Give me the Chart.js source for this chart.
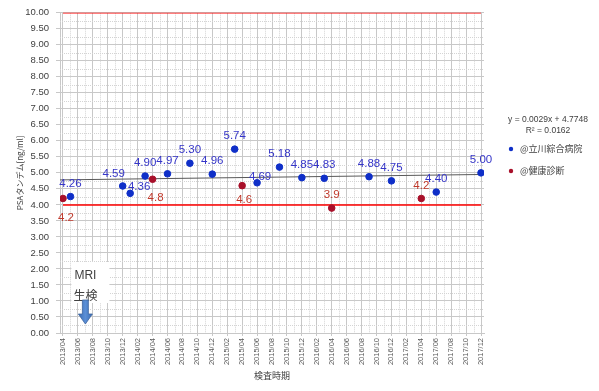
<!DOCTYPE html>
<html>
<head>
<meta charset="utf-8">
<script src="https://cdn.jsdelivr.net/npm/chart.js@4.4.1/dist/chart.umd.min.js"></script>
<style>
  html, body { margin: 0; padding: 0; background: #fff; }
  #wrap { width: 599px; height: 391px; position: relative; }
</style>
</head>
<body>
<div id="wrap"><canvas id="psaChart"></canvas></div>
<script>
// 目盛りラベル (2か月ごと)
const tickLabels = ['2013/04','2013/06','2013/08','2013/10','2013/12',
  '2014/02','2014/04','2014/06','2014/08','2014/10','2014/12',
  '2015/02','2015/04','2015/06','2015/08','2015/10','2015/12',
  '2016/02','2016/04','2016/06','2016/08','2016/10','2016/12',
  '2017/02','2017/04','2017/06','2017/08','2017/10','2017/12'];

// @立川綜合病院
const hospitalMonths = ['2013/05','2013/12','2014/01','2014/03','2014/06','2014/09','2014/12','2015/03',
  '2015/06','2015/09','2015/12','2016/03','2016/09','2016/12','2017/06','2017/12'];
const hospitalPsa = [4.26, 4.59, 4.36, 4.90, 4.97, 5.30, 4.96, 5.74, 4.69, 5.18, 4.85, 4.83, 4.88, 4.75, 4.40, 5.00];
const hospitalLabelPos = ['t','tl','tr','t','t','t','t','t','tc','t','t','t','t','t','t','t'];

// @健康診断
const checkupMonths = ['2013/04','2014/04','2015/04','2016/04','2017/04'];
const checkupPsa = [4.2, 4.8, 4.6, 3.9, 4.2];
const checkupLabelPos = ['b','b','b2','t','t'];

// 近似直線 (左端, 右端)
const trendValues = [4.78, 4.95];
const trendText = ['y = 0.0029x + 4.7748', 'R² = 0.0162'];

// 基準線
const limitValues = [4.0, 10.0];
const limitMonths = ['2013/04', '2017/12'];

const X_MIN = -0.4, X_MAX = 56.4;

function monthIndex(s) {
  const [y, m] = s.split('/').map(Number);
  return (y - 2013) * 12 + m - 4;
}

const blue = '#0f2fc8';
const blueText = '#3535c8';
const red = '#a8102a';
const redText = '#c0392b';
const gridColor = '#c8c8c8';
const latin = "'Liberation Sans', 'Noto Sans CJK JP', sans-serif";
const cjk = "'Noto Sans CJK JP', 'Liberation Sans', sans-serif";

const labelOffsets = {
  t: [0, -13], tl: [-9, -12], tr: [9, -7], tc: [3, -6], b: [3, 19], b2: [2, 14]
};

// 副目盛りの点線
const minorGrid = {
  id: 'minorGrid',
  beforeDatasetsDraw(chart) {
    const { ctx, chartArea: a, scales: { x, y } } = chart;
    ctx.save();
    ctx.strokeStyle = '#d4d4d4';
    ctx.lineWidth = 1;
    ctx.setLineDash([1, 1]);
    for (let m = 1; m < 56; m += 2) {
      const px = Math.round(x.getPixelForValue(m)) + 0.5;
      ctx.beginPath();
      ctx.moveTo(px, a.top);
      ctx.lineTo(px, a.bottom);
      ctx.stroke();
    }
    for (let v = 0.25; v < 10; v += 0.5) {
      const py = Math.round(y.getPixelForValue(v)) + 0.5;
      ctx.beginPath();
      ctx.moveTo(a.left, py);
      ctx.lineTo(a.right, py);
      ctx.stroke();
    }
    ctx.restore();
  }
};

// データラベル, 凡例, 注記
const extras = {
  id: 'extras',
  afterDatasetsDraw(chart) {
    const { ctx, scales: { x, y } } = chart;
    ctx.save();
    ctx.textAlign = 'center';
    ctx.textBaseline = 'middle';

    // データラベル
    const sets = [
      { idx: 0, pos: hospitalLabelPos, color: blueText, fmt: v => v.toFixed(2) },
      { idx: 1, pos: checkupLabelPos, color: redText, fmt: v => v.toFixed(1) }
    ];
    ctx.font = '11.5px ' + latin;
    sets.forEach(s => {
      const meta = chart.getDatasetMeta(s.idx);
      const data = chart.data.datasets[s.idx].data;
      meta.data.forEach((pt, i) => {
        const off = labelOffsets[s.pos[i]];
        ctx.fillStyle = s.color;
        ctx.fillText(s.fmt(data[i].y), pt.x + off[0], pt.y + off[1]);
      });
    });

    // MRI / 生検 注記
    const ax = x.getPixelForValue(3);
    const ay = y.getPixelForValue(0);
    ctx.fillStyle = '#fff';
    ctx.fillRect(ax - 14, ay - 71, 38, 41);
    ctx.fillStyle = '#404040';
    ctx.font = '12px ' + latin;
    ctx.fillText('MRI', ax, ay - 57);
    ctx.font = '12px ' + cjk;
    ctx.fillText('生検', ax, ay - 38);
    // 矢印
    const g = ctx.createLinearGradient(ax - 7, 0, ax + 7, 0);
    g.addColorStop(0, '#3a6cb4');
    g.addColorStop(0.5, '#5b8fd6');
    g.addColorStop(1, '#3a6cb4');
    ctx.fillStyle = g;
    ctx.strokeStyle = '#3d64a0';
    ctx.lineWidth = 0.8;
    ctx.beginPath();
    ctx.moveTo(ax - 3, ay - 33);
    ctx.lineTo(ax + 3, ay - 33);
    ctx.lineTo(ax + 3, ay - 19);
    ctx.lineTo(ax + 7, ay - 19);
    ctx.lineTo(ax, ay - 9);
    ctx.lineTo(ax - 7, ay - 19);
    ctx.lineTo(ax - 3, ay - 19);
    ctx.closePath();
    ctx.fill();
    ctx.stroke();

    // 近似式と凡例
    const lx = 548;
    ctx.fillStyle = '#404040';
    ctx.font = '8.5px ' + latin;
    ctx.fillText(trendText[0], lx, 120);
    ctx.fillText(trendText[1], lx, 131);
    ctx.textAlign = 'left';
    ctx.font = '9px ' + cjk;
    [[blue, '@立川綜合病院', 149], [red, '@健康診断', 171]].forEach(([c, t, ly]) => {
      ctx.fillStyle = c;
      ctx.beginPath();
      ctx.arc(511, ly, 2.2, 0, Math.PI * 2);
      ctx.fill();
      ctx.fillStyle = '#404040';
      ctx.fillText(t, 520, ly);
    });
    ctx.restore();
  }
};

const ctx = document.getElementById('psaChart').getContext('2d');
new Chart(ctx, {
  type: 'scatter',
  data: {
    datasets: [
      {
        label: '@立川綜合病院',
        data: hospitalMonths.map((m, i) => ({ x: monthIndex(m), y: hospitalPsa[i] })),
        backgroundColor: blue,
        borderColor: blue,
        pointRadius: 3.3
      },
      {
        label: '@健康診断',
        data: checkupMonths.map((m, i) => ({ x: monthIndex(m), y: checkupPsa[i] })),
        backgroundColor: red,
        borderColor: red,
        pointRadius: 3.3
      },
      {
        label: 'trend',
        data: [{ x: X_MIN, y: trendValues[0] }, { x: X_MAX, y: trendValues[1] }],
        showLine: true,
        borderColor: '#595959',
        borderWidth: 1,
        pointRadius: 0
      },
      ...limitValues.map(v => ({
        label: 'limit',
        data: limitMonths.map(m => ({ x: monthIndex(m), y: v })),
        showLine: true,
        borderColor: '#ff0000',
        borderWidth: 1.5,
        pointRadius: 0
      }))
    ]
  },
  options: {
    responsive: true,
    maintainAspectRatio: false,
    animation: false,
    layout: { padding: { top: 10, right: 115, bottom: 0, left: 0 } },
    plugins: {
      legend: { display: false },
      tooltip: { enabled: false }
    },
    scales: {
      x: {
        type: 'linear',
        min: X_MIN,
        max: X_MAX,
        afterBuildTicks(scale) {
          scale.ticks = tickLabels.map((_, i) => ({ value: i * 2 }));
        },
        afterFit(scale) { scale.height = 58; },
        ticks: {
          autoSkip: false,
          minRotation: 90,
          maxRotation: 90,
          padding: 2,
          color: '#595959',
          font: { family: latin, size: 7.5 },
          callback: (v, i) => tickLabels[i]
        },
        grid: { color: gridColor, tickLength: 3 },
        border: { color: gridColor },
        title: {
          display: true,
          text: '検査時期',
          color: '#404040',
          font: { family: cjk, size: 9 },
          padding: { top: 0, bottom: 10 }
        }
      },
      y: {
        min: 0,
        max: 10,
        afterFit(scale) { scale.width = 60; },
        ticks: {
          stepSize: 0.5,
          padding: 7,
          color: '#404040',
          font: { family: latin, size: 9.5 },
          callback: v => v.toFixed(2)
        },
        grid: { color: gridColor, tickLength: 4 },
        border: { color: gridColor },
        title: {
          display: true,
          text: 'PSAタンデム[ng/ml]',
          color: '#404040',
          font: { family: cjk, size: 8 },
          padding: { top: 15, bottom: 0 }
        }
      }
    }
  },
  plugins: [minorGrid, extras]
});
</script>
</body>
</html>
